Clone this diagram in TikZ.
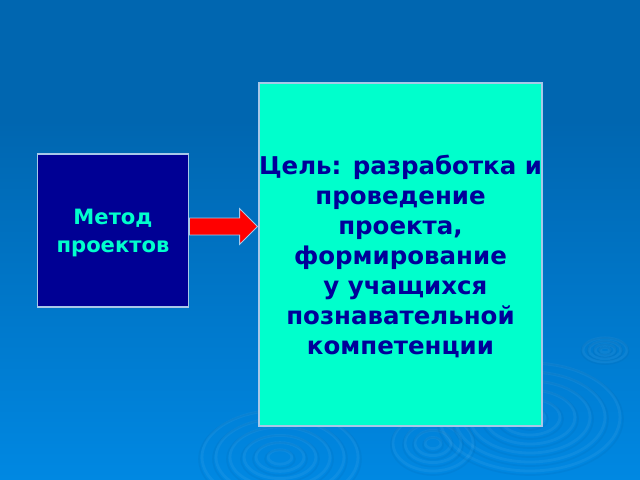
\documentclass[tikz,border=0pt]{standalone}
\usepackage{fontspec}
\setmainfont{DejaVu Sans}
\usetikzlibrary{positioning,shapes.arrows}

\definecolor{fonverh}{HTML}{0066B0}
\definecolor{fonniz}{HTML}{0088E2}
\definecolor{temno}{HTML}{000094}
\definecolor{biruza}{HTML}{00FFCC}
\definecolor{tekst}{HTML}{000099}
\definecolor{ramka}{HTML}{A8C8E8}

\tikzset{
  blok/.style={draw=ramka, line width=0.8pt, inner sep=0pt, align=center},
  volna/.style={draw=white, opacity=0.05, line width=2pt},
  volnat/.style={draw=fonverh!70!black, opacity=0.08, line width=1.2pt},
}

\begin{document}
\begin{tikzpicture}[x=0.025cm, y=-0.025cm]
		% 背景
		\fill[fonverh] (0, 0) rectangle (640, 120);
		\shade[top color=fonverh, bottom color=fonniz] (0, 120) rectangle (640, 480);
		\useasboundingbox (0, 0) rectangle (640, 480);

		% 水波纹
		\foreach \r in {12, 24, 36, 50, 64, 78} {
			\draw[volna] (280, 457) ellipse ({\r} and {\r*0.6});
			\draw[volnat] (280, 459) ellipse ({\r+3} and {\r*0.6+2});
		}
		\foreach \r in {8, 18, 28, 40} {
			\draw[volna] (433, 443) ellipse ({\r} and {\r*0.7});
			\draw[volnat] (433, 445) ellipse ({\r+2} and {\r*0.7+2});
		}
		\foreach \r in {15, 30, 45, 60, 75, 90} {
			\draw[volna] (530, 417) ellipse ({\r} and {\r*0.6});
			\draw[volnat] (530, 419) ellipse ({\r+3} and {\r*0.6+2});
		}
		\foreach \r in {5, 10, 16, 22} {
			\draw[volna] (605, 350) ellipse ({\r} and {\r*0.55});
			\draw[volnat] (605, 351) ellipse ({\r+1.5} and {\r*0.55+1});
		}

		% 两个方框
		\node[blok, fill=temno, text=biruza, minimum width=3.775cm, minimum height=3.825cm,
			font=\bfseries\fontsize{15}{20}\selectfont] (metod) at (113, 230.5) {\rule{0pt}{14pt}Метод\\проектов};
		\node[blok, fill=biruza, text=tekst, minimum width=7.075cm, minimum height=8.575cm,
			font=\bfseries\fontsize{17.4}{21.3}\selectfont] (tsel) at (400.5, 254.5)
			{\rule{0pt}{17pt}Цель: разработка и\\проведение\\проекта,\hspace{0.6em}\\формирование\\\hspace{0.4em}у учащихся\\познавательной\\компетенции};

		% 箭头
		\node[single arrow, fill=red, draw=ramka, line width=0.6pt, inner xsep=0pt, inner ysep=0.2cm,
			minimum height=1.7cm, single arrow head extend=0.2375cm,
			right=0pt of metod, yshift=1mm] (strelka) {};
	\end{tikzpicture}
\end{document}
